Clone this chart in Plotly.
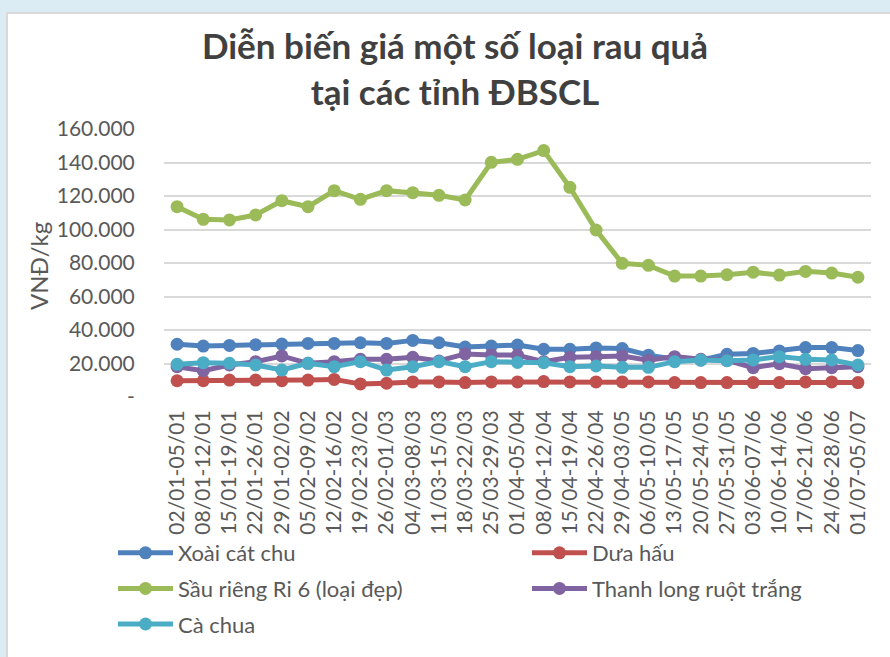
import plotly.graph_objects as go

categories = ["02/01-05/01", "08/01-12/01", "15/01-19/01", "22/01-26/01", "29/01-02/02",
              "05/02-09/02", "12/02-16/02", "19/02-23/02", "26/02-01/03", "04/03-08/03",
              "11/03-15/03", "18/03-22/03", "25/03-29/03", "01/04-05/04", "08/04-12/04",
              "15/04-19/04", "22/04-26/04", "29/04-03/05", "06/05-10/05", "13/05-17/05",
              "20/05-24/05", "27/05-31/05", "03/06-07/06", "10/06-14/06", "17/06-21/06",
              "24/06-28/06", "01/07-05/07"]

xoai_cat_chu = [31500, 30400, 30800, 31200, 31600, 32000, 32000, 32400, 32000, 33800,
                32400, 29800, 30400, 31000, 28500, 28500, 29300, 28900, 25000, 22500,
                22000, 25500, 26000, 27500, 29500, 29500, 27700]
dua_hau = [9700, 9700, 10100, 10100, 9700, 10100, 10500, 7800, 8200, 9000,
           9000, 8600, 9000, 9000, 9200, 9000, 9000, 9000, 9000, 8600,
           8600, 8600, 8600, 8600, 9000, 9000, 8600]
sau_rieng = [113600, 106100, 105700, 108700, 117200, 113600, 123200, 118000, 123200, 122000,
             120400, 117600, 140100, 141900, 147100, 125200, 99700, 79800, 78600, 72200,
             72200, 73000, 74500, 72800, 75000, 74000, 71500]
thanh_long = [18100, 15700, 19100, 21100, 24500, 20100, 21100, 22500, 22500, 23700,
              21500, 25700, 25100, 25000, 21100, 23700, 24100, 24500, 21900, 24100,
              22500, 21900, 17500, 19900, 16900, 17500, 18100]
ca_chua = [19500, 20500, 20100, 19100, 16100, 20100, 18100, 21100, 16100, 18100,
           21100, 18100, 21100, 20600, 20500, 18100, 18500, 17700, 17700, 21100,
           22100, 21700, 22100, 24100, 22500, 22100, 19100]

series_names = ["Xoài cát chu", "Dưa hấu", "Sầu riêng Ri 6 (loại đẹp)",
                "Thanh long ruột trắng", "Cà chua"]
series_values = [xoai_cat_chu, dua_hau, sau_rieng, thanh_long, ca_chua]
series_colors = ["#4f81bd", "#c0504d", "#9bbb59", "#8064a2", "#4bacc6"]
series_legend = ["legend", "legend2", "legend", "legend2", "legend"]

y_tick_vals = [0, 20000, 40000, 60000, 80000, 100000, 120000, 140000, 160000]
y_tick_text = ["-", "20.000", "40.000", "60.000", "80.000", "100.000", "120.000",
               "140.000", "160.000"]

# layout geometry (pixels)
W, H = 890, 657
PL, PR, PT, PB = 164, 871, 129, 397


def px_x(px):
    return (px - PL) / (PR - PL)


def px_y(py):
    return (PB - py) / (PB - PT)


FONT = "Lato"
TXT = "#595959"

fig = go.Figure()
for name, vals, col, leg in zip(series_names, series_values, series_colors, series_legend):
    fig.add_trace(go.Scatter(
        x=categories, y=vals, name=name, mode="lines+markers",
        line=dict(color=col, width=5),
        marker=dict(color=col, size=13),
        legend=leg, legendgroup=name,
    ))

legend_common = dict(orientation="v", xanchor="left", yanchor="top",
                     itemwidth=55, bgcolor="rgba(0,0,0,0)", traceorder="grouped",
                     font=dict(size=22, color=TXT, family=FONT), tracegroupgap=4)

fig.update_layout(
    width=W, height=H,
    margin=dict(l=PL, r=W - PR, t=PT, b=H - PB, pad=0, autoexpand=False),
    paper_bgcolor="#dbecf4",
    plot_bgcolor="rgba(0,0,0,0)",
    font=dict(family=FONT, color=TXT, size=21),
    title=dict(text="Diễn biến giá một số loại rau quả<br>tại các tỉnh ĐBSCL",
               x=px_x(455), xref="paper", xanchor="center",
               y=1 - 59 / H, yref="container", yanchor="middle", automargin=False,
               font=dict(family=FONT, size=35, color="#404040", weight="bold")),
    xaxis=dict(type="category", range=[-0.5, len(categories) - 0.5],
               tickmode="linear", dtick=1,
               tickangle=-90, showgrid=False, zeroline=False,
               showline=False, ticks="outside", ticklen=4, tickcolor="rgba(0,0,0,0)",
               automargin=False,
               tickfont=dict(size=21, color=TXT, family=FONT)),
    yaxis=dict(range=[0, 160000], tickvals=y_tick_vals, ticktext=y_tick_text,
               showgrid=True, gridcolor="#d9d9d9", gridwidth=1.5, zeroline=False,
               showline=False, ticks="outside", ticklen=24, tickcolor="rgba(0,0,0,0)",
               automargin=False,
               tickfont=dict(size=21, color=TXT, family=FONT)),
    legend=dict(x=px_x(113), y=px_y(532), **legend_common),
    legend2=dict(x=px_x(527), y=px_y(532), **legend_common),
    shapes=[dict(type="rect", xref="paper", yref="paper", layer="below",
                 x0=px_x(7), x1=px_x(892), y0=px_y(660), y1=px_y(13),
                 fillcolor="white", line=dict(color="#d9d9d9", width=2))],
    annotations=[dict(text="VNĐ/kg", xref="paper", yref="paper", x=px_x(38), y=px_y(266),
                      xanchor="center", yanchor="middle", textangle=-90, showarrow=False,
                      font=dict(size=24, color=TXT, family=FONT))],
    showlegend=True,
)

fig.write_html("out.html", config={"displayModeBar": False},
               post_script="document.body.style.margin='0';")
